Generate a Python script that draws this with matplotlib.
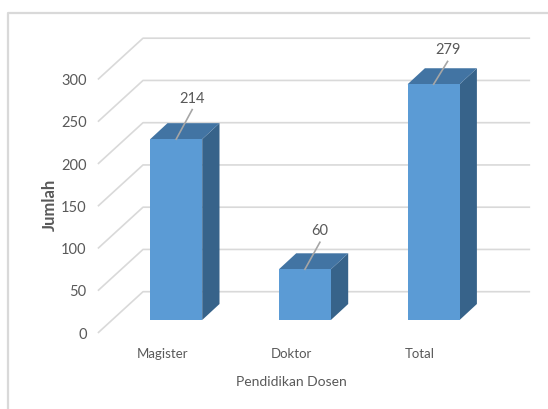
import matplotlib
matplotlib.use("Agg")
from matplotlib import pyplot as plt
from matplotlib.patches import Polygon

categories = ["Magister", "Doktor", "Total"]
jumlah = [214, 60, 279]
y_ticks = [0, 50, 100, 150, 200, 250, 300]

plt.rcParams['font.family'] = ['Lato', 'DejaVu Sans']

# scale of the axes: one category = step px, one unit = unit px
step = 128.7
unit = 0.845
x0 = 176.2
y0 = 321.0

def px_x(p):
        return (p - x0) / step

def px_y(p):
        return (y0 - p) / unit

fig = plt.figure(figsize=(5.48, 4.10), dpi=100)
ax = fig.add_axes([0, 0, 1, 1])
ax.set_xlim(px_x(0), px_x(548))
ax.set_ylim(px_y(410), px_y(0))
ax.axis("off")

grid_c = "#d9d9d9"
text_c = "#595959"

# outer frame, only top and left
ax.plot([px_x(8), px_x(8), px_x(548)], [px_y(410), px_y(14), px_y(14)], color=grid_c, lw=1.6, zorder=1)

# fake 3d gridlines: side wall then back wall
back_shift = (y0 - 292.7) / unit
front_shift = (y0 - 333.4) / unit
for t in y_ticks:
        ax.plot([px_x(98.5), px_x(143), px_x(529.3)],
                [t + front_shift, t + back_shift, t + back_shift],
                color=grid_c, lw=1.2, zorder=2)
        ax.text(px_x(86.5), t + front_shift - 1.5, str(t), ha="right", va="center",
                fontsize=10.5, color=text_c)

width = 52 / step
dx = 17.3 / step
dy = 16 / unit
xs = list(range(len(categories)))

ax.bar(xs, jumlah, width=width, bottom=0, color="#5b9bd5", zorder=5)

# leader end and label height above each bar, in value units
leader_dx = [16, 15, 14]
leader_up = [35, 32, 27]
label_up = [49, 47, 42]

for x, v in zip(xs, jumlah):
        r = x + width / 2
        l = x - width / 2
        ax.add_patch(Polygon([(r, 0), (r + dx, dy), (r + dx, v + dy), (r, v)],
                             closed=True, fc="#37638a", ec="none", zorder=4))
        ax.add_patch(Polygon([(l, v), (l + dx, v + dy), (r + dx, v + dy), (r, v)],
                             closed=True, fc="#4274a3", ec="none", zorder=4))
        # leader line up to the value label
        ax.plot([x, x + leader_dx[x] / step], [v, v + leader_up[x]], color="#a6a6a6", lw=1.2, zorder=6)
        ax.text(x + leader_dx[x] / step, v + label_up[x], str(v), ha="center", va="center",
                fontsize=10.5, color=text_c, zorder=7)
        ax.text(x - 14 / step, px_y(354), categories[x], ha="center", va="center",
                fontsize=9.5, color=text_c)

ax.text(px_x(291), px_y(382), "Pendidikan Dosen", ha="center", va="center",
        fontsize=10, color=text_c)
ax.text(px_x(50), px_y(205), "Jumlah", ha="center", va="center", rotation=90,
        fontsize=12, fontweight="bold", color=text_c)

fig.savefig("out.png", dpi=100)
